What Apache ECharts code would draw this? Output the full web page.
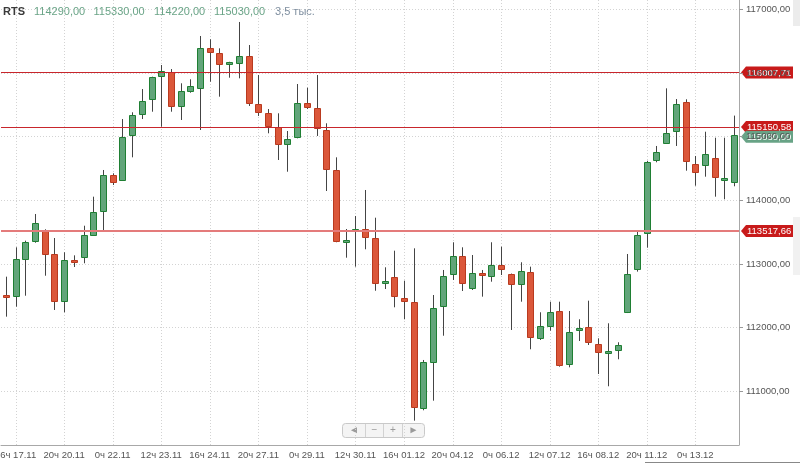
<!DOCTYPE html>
<html><head><meta charset="utf-8">
<script src="https://cdn.jsdelivr.net/npm/echarts@6/dist/echarts.min.js"></script>
<style>html,body{margin:0;padding:0;background:#fff}#c{width:800px;height:464px}</style>
</head><body><div id="c"></div>
<script>
// ---- data ----
const tickLabels = ['16ч 17.11','20ч 20.11','0ч 22.11','12ч 23.11','16ч 24.11','20ч 27.11','0ч 29.11','12ч 30.11','16ч 01.12','20ч 04.12','0ч 06.12','12ч 07.12','16ч 08.12','20ч 11.12','0ч 13.12'];
const opens  = [112500,112497,113083,113361,113538,113152,112424,113060,113105,113455,113832,114397,114319,115030,115350,115586,115952,116019,115485,115721,115758,116396,116308,116135,116151,116266,115507,115375,115156,114879,114989,115523,115444,115104,114476,113350,113525,113545,113403,112705,112801,112471,112408,110744,111461,112341,112843,113126,112628,112863,112816,112984,112838,112686,112879,111833,112031,112262,111425,111965,112006,111739,111605,111650,112242,112917,113482,114633,114904,115093,115548,114565,114554,114669,114325,114290];
const closes = [112490,113074,113350,113648,113157,112414,113058,113045,113450,113821,114397,114292,114998,115339,115559,115931,116035,115485,115716,115795,116396,116333,116135,116167,116266,115523,115382,115171,114879,114962,115532,115470,115130,114487,113366,113362,113540,113419,112697,112720,112502,112424,110760,111457,112314,112816,113126,112697,112863,112827,112984,112917,112686,112890,111849,112031,112242,111414,111928,111980,111771,111623,111620,111728,112838,113455,114606,114754,115061,115512,114617,114440,114727,114361,114340,115030];
const highs  = [112801,113262,113366,113785,113545,113408,113184,113136,113601,114057,114476,114424,115276,115382,115747,115941,116124,116061,115837,115900,116580,116528,116386,116175,116800,116438,115967,115433,115366,115088,115826,115768,115967,115209,114675,113549,113754,114162,113727,112948,113209,112738,113246,111493,112513,112906,113341,113262,113141,112906,113341,113272,112850,113027,112958,112242,112408,112408,112262,112132,112424,111833,112069,111771,113157,113520,114620,114853,115758,115590,115586,114696,115077,114983,114983,115330];
const lows   = [112173,112330,112502,113334,112816,112278,112242,112953,113011,113440,113507,114240,114303,114675,115276,115391,115156,115391,115261,115689,115104,115862,115627,115925,115915,115481,115324,115052,114633,114449,114973,115433,115010,114146,113341,113099,112958,113231,112580,112607,112320,112132,110540,110703,110854,111874,112749,112576,112592,112487,112722,112827,111964,112408,111661,111807,111953,111388,111378,111791,111728,111273,111080,111504,112230,112880,113256,114597,114895,114853,114465,114229,114371,114057,114016,114220];
const volumeText = '3,5 тыс.';
const levels = [116007.71, 115150.58, 113517.66];
const yTicks = [111000,112000,113000,114000,115000,116000,117000];
const yMin = 110158, yMax = 117145;

// ---- build ----
const fmt = v => v.toFixed(2).replace('.', ',');
const categories = opens.map((_, i) => ((i - 1) % 5 === 0 && i >= 1) ? tickLabels[(i - 1) / 5] : '');
const showTick = (idx) => idx >= 1 && (idx - 1) % 5 === 0;
const tickIdx = categories.map((c, i) => c ? i : -1).filter(i => i >= 0);
const rows = opens.map((o, i) => [i, o, closes[i], lows[i], highs[i]]);

const UP_FILL = '#62a57a', UP_STROKE = '#1f7f33', DN_FILL = '#db573a', DN_STROKE = '#b93a1f';
function renderItem(params, api) {
  const i = api.value(0), o = api.value(1), c = api.value(2), l = api.value(3), h = api.value(4);
  const pO = api.coord([i, o]), pC = api.coord([i, c]), pL = api.coord([i, l]), pH = api.coord([i, h]);
  const x = Math.round(pO[0]) + 0.5;
  const up = c >= o;
  let top = Math.min(pO[1], pC[1]), bot = Math.max(pO[1], pC[1]);
  if (bot - top < 2) { const m = (top + bot) / 2; top = m - 1; bot = m + 1; }
  top = Math.round(top) + 0.5; bot = Math.round(bot) + 0.5;
  if (bot - top < 2) bot = top + 2;
  return { type: 'group', children: [
    { type: 'line', shape: { x1: x, y1: pH[1], x2: x, y2: pL[1] }, style: { stroke: '#444', lineWidth: 1 } },
    { type: 'rect', shape: { x: x - 3, y: top, width: 6, height: bot - top },
      style: { fill: up ? UP_FILL : DN_FILL, stroke: up ? UP_STROKE : DN_STROKE, lineWidth: 1 } }
  ]};
}
function renderGrid(params, api) {
  const p = api.coord([api.value(0), yMin]);
  const x = Math.round(p[0]) + 0.5;
  const cs = params.coordSys;
  return { type: 'line', shape: { x1: x, y1: cs.y, x2: x, y2: cs.y + cs.height },
    style: { stroke: '#d3d3d3', lineWidth: 1, lineDash: [1, 2] } };
}

const chart = echarts.init(document.getElementById('c'), null, { renderer: 'canvas' });
const FONT = 'Liberation Sans, Arial, sans-serif';
chart.setOption({
  animation: false,
  backgroundColor: '#ffffff',
  grid: { left: 1, right: 61, top: 0, bottom: 19, containLabel: false, outerBoundsMode: 'none' },
  xAxis: {
    type: 'category', data: categories, boundaryGap: true,
    axisLine: { lineStyle: { color: '#a8a8a8' } },
    axisTick: { alignWithLabel: true, interval: showTick, length: 4, lineStyle: { color: '#999' } },
    axisLabel: { interval: showTick, margin: 5, fontSize: 9.5, color: '#555', fontFamily: FONT, hideOverlap: false },
    splitLine: { show: false }
  },
  yAxis: {
    type: 'value', position: 'right', min: yMin, max: yMax,
    axisLine: { show: true, lineStyle: { color: '#a8a8a8' } },
    axisTick: { show: true, length: 4, customValues: yTicks, lineStyle: { color: '#999' } },
    axisLabel: { customValues: yTicks, margin: 7, fontSize: 9.5, color: '#555', fontFamily: FONT, formatter: v => fmt(v) },
    splitLine: { show: true, lineStyle: { type: [1, 2], color: '#d3d3d3' } }
  },
  series: [{
    // vertical dotted grid lines at labelled categories (behind candles)
    type: 'custom', renderItem: renderGrid, data: tickIdx.map(i => [i]), z: 1, silent: true,
    encode: { x: 0 }
  }, {
    type: 'custom', renderItem: renderItem, data: rows, clip: true, z: 3,
    encode: { x: 0, y: [1, 2, 3, 4] },
    markLine: {
      silent: true, symbol: 'none', label: { show: false }, animation: false,
      data: [
        { yAxis: levels[0], lineStyle: { color: '#c8262c', width: 1, type: 'solid' } },
        { yAxis: levels[1], lineStyle: { color: '#c8262c', width: 1, type: 'solid' } },
        { yAxis: levels[2], lineStyle: { color: '#e47b7b', width: 2, type: 'solid' } }
      ]
    }
  }]
});

// ---- overlay graphics (header, price tags, nav) ----
const last = rows.length - 1;
const headerVals = [opens[last], highs[last], lows[last], closes[last]].map(fmt);
const g = [];
g.push({ type: 'text', left: 3, top: 6, style: { text: 'RTS', font: 'bold 11px ' + FONT, fill: '#3a3a3a' } });
const hx = [34, 93.5, 154, 214];
headerVals.forEach((t, k) => g.push({ type: 'text', left: hx[k], top: 6, style: { text: t, font: '11px ' + FONT, fill: '#6aa487' } }));
g.push({ type: 'text', left: 275, top: 6, style: { text: volumeText, font: '11px ' + FONT, fill: '#7f8fa0' } });

function tag(value, color, label, dy) {
  const y = chart.convertToPixel({ yAxisIndex: 0 }, value) + (dy || 0);
  return { type: 'group', children: [
    { type: 'polygon', shape: { points: [[741, y], [746, y - 6], [793, y - 6], [793, y + 6], [746, y + 6]] }, style: { fill: color } },
    { type: 'text', x: 747, y: y + 0.5, style: { text: label, font: '9.5px ' + FONT, fill: '#fff', verticalAlign: 'middle', align: 'left' } }
  ]};
}
g.push(tag(levels[0], '#c81a1a', fmt(levels[0])));
g.push(tag(levels[1], '#c81a1a', fmt(levels[1])));
g.push(tag(levels[2], '#c81a1a', fmt(levels[2])));
g.push(tag(closes[last], '#68a386', fmt(closes[last]), 2));

// navigation buttons
g.push({ type: 'rect', shape: { x: 342.5, y: 423.5, width: 82, height: 14, r: 3 }, style: { fill: '#f4f4f4', stroke: '#c9c9c9', lineWidth: 1 } });
[365.5, 383.5, 402.5].forEach(x => g.push({ type: 'line', shape: { x1: x, y1: 424, x2: x, y2: 437 }, style: { stroke: '#d2d2d2', lineWidth: 1 } }));
[['◄', 354], ['−', 374.5], ['+', 393], ['►', 413.5]].forEach(([t, x]) => g.push({ type: 'text', x: x, y: 430.5, style: { text: t, font: '10px ' + FONT, fill: '#9a9a9a', align: 'center', verticalAlign: 'middle' } }));
// side panel traces
g.push({ type: 'rect', shape: { x: 793, y: 0, width: 7, height: 26 }, style: { fill: '#ececec' } });
g.push({ type: 'rect', shape: { x: 793, y: 217, width: 7, height: 58 }, style: { fill: '#f1f1f1' } });
g.push({ type: 'line', shape: { x1: 645, y1: 462.5, x2: 800, y2: 462.5 }, style: { stroke: '#888', lineWidth: 1 } });

chart.setOption({ graphic: g });
</script>
</body></html>
